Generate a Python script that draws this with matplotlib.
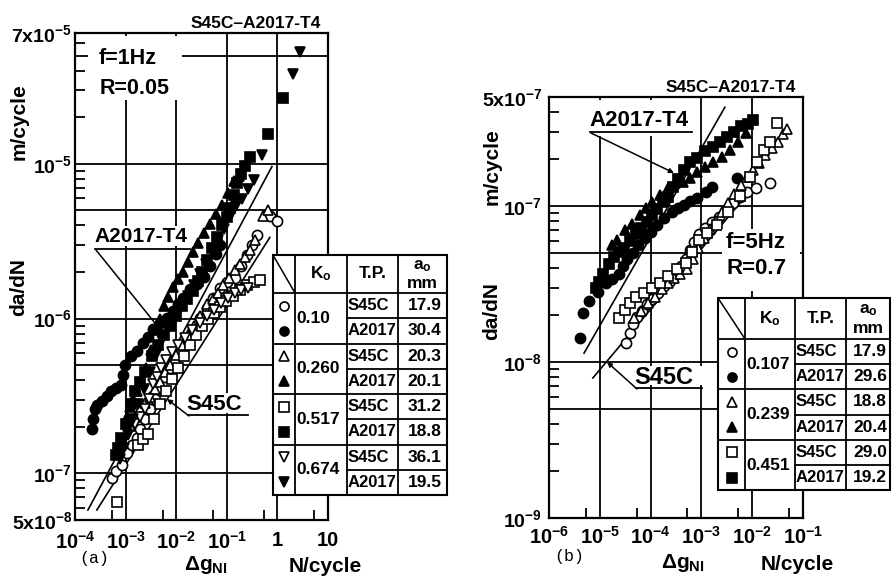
import numpy as np
import matplotlib
matplotlib.use("Agg")
import matplotlib.pyplot as plt
from matplotlib.ticker import LogLocator, NullFormatter, FixedLocator, FixedFormatter
from matplotlib.patches import Rectangle

plt.rcParams['font.family'] = ['Liberation Sans', 'DejaVu Sans']
plt.rcParams['font.weight'] = 'bold'
plt.rcParams['mathtext.default'] = 'regular'

# ---------------- panel (a) data : f=1Hz, R=0.05 ----------------
a_s45c_010_x = [5.4e-4, 6.5e-4, 8.5e-4, 1.07e-3, 1.34e-3, 1.68e-3, 1.93e-3, 2.42e-3, 3.03e-3, 3.81e-3,
                4.79e-3, 6.0e-3, 7.5e-3, 9.5e-3, 1.19e-2, 1.63e-2, 2.15e-2, 2.95e-2, 4.06e-2, 5.3e-2,
                7.3e-2, 0.101, 0.145, 0.191, 0.251, 0.315, 0.395, 0.714, 0.982]
a_s45c_010_y = [9.4e-8, 1.04e-7, 1.14e-7, 1.36e-7, 1.53e-7, 1.69e-7, 1.95e-7, 2.26e-7, 2.62e-7, 3.03e-7,
                3.5e-7, 4.2e-7, 4.8e-7, 5.4e-7, 6.45e-7, 7.5e-7, 8.6e-7, 1.01e-6, 1.17e-6, 1.36e-6,
                1.57e-6, 1.72e-6, 1.84e-6, 2.2e-6, 2.58e-6, 2.98e-6, 3.45e-6, 4.6e-6, 4.3e-6]
a_a2017_010_x = [2.17e-4, 2.27e-4, 2.48e-4, 2.72e-4, 3.4e-4, 4.3e-4, 5.1e-4, 6.5e-4, 8.1e-4, 8.9e-4,
                 9.7e-4, 1.28e-3, 1.68e-3, 2.21e-3, 2.77e-3, 3.48e-3, 4.79e-3, 6.6e-3, 8.6e-3, 1.09e-2,
                 1.36e-2, 1.87e-2, 2.58e-2, 3.54e-2, 4.66e-2, 6.1e-2, 7.3e-2]
a_a2017_010_y = [1.95e-7, 2.26e-7, 2.62e-7, 2.77e-7, 2.94e-7, 3.16e-7, 3.4e-7, 3.55e-7, 3.7e-7, 4.35e-7,
                 5.0e-7, 5.7e-7, 6.2e-7, 6.95e-7, 7.6e-7, 8.6e-7, 9.4e-7, 1.01e-6, 1.12e-6, 1.24e-6,
                 1.36e-6, 1.55e-6, 1.67e-6, 1.87e-6, 2.2e-6, 2.62e-6, 2.98e-6]
a_s45c_026_x = [1.22e-3, 1.53e-3, 1.93e-3, 2.42e-3, 3.03e-3, 3.81e-3, 4.79e-3, 6.0e-3, 7.5e-3, 9.9e-3,
                1.30e-2, 1.71e-2, 2.25e-2, 2.95e-2, 4.06e-2, 5.3e-2, 6.7e-2, 8.4e-2, 0.110, 0.145,
                0.182, 0.229, 0.287, 0.361, 0.519, 0.652]
a_s45c_026_y = [2.01e-7, 2.33e-7, 2.62e-7, 2.86e-7, 3.12e-7, 3.5e-7, 3.9e-7, 4.5e-7, 5.0e-7, 5.8e-7,
                6.75e-7, 7.8e-7, 9.0e-7, 1.04e-6, 1.24e-6, 1.34e-6, 1.46e-6, 1.64e-6, 1.82e-6, 2.07e-6,
                2.26e-6, 2.5e-6, 2.77e-6, 3.2e-6, 4.6e-6, 5.0e-6]
a_a2017_026_x = [8.5e-4, 1.07e-3, 1.22e-3, 1.40e-3, 1.68e-3, 2.01e-3, 2.53e-3, 3.18e-3, 3.99e-3, 4.79e-3,
                 5.74e-3, 6.9e-3, 8.6e-3, 1.09e-2, 1.36e-2, 1.71e-2, 2.15e-2, 2.70e-2, 3.54e-2, 4.66e-2,
                 6.1e-2, 8.0e-2, 0.106, 0.139, 0.174]
a_a2017_026_y = [1.57e-7, 2.33e-7, 2.69e-7, 3.03e-7, 3.4e-7, 3.9e-7, 4.8e-7, 6.3e-7, 8.4e-7, 1.0e-6,
                 1.21e-6, 1.38e-6, 1.60e-6, 1.79e-6, 2.01e-6, 2.33e-6, 2.69e-6, 3.07e-6, 3.55e-6, 4.1e-6,
                 4.75e-6, 5.4e-6, 6.5e-6, 7.7e-6, 8.3e-6]
a_s45c_0517_x = [6.8e-4, 1.76e-3, 2.21e-3, 2.77e-3, 3.64e-3, 4.79e-3, 6.3e-3, 8.3e-3, 1.09e-2, 1.43e-2,
                 1.87e-2, 2.46e-2, 3.24e-2, 4.25e-2, 5.6e-2, 7.3e-2, 9.6e-2, 0.133, 0.182, 0.251,
                 0.345, 0.453]
a_s45c_0517_y = [6.5e-8, 1.53e-7, 1.67e-7, 1.8e-7, 2.26e-7, 2.81e-7, 3.4e-7, 4.05e-7, 4.8e-7, 5.75e-7,
                 6.75e-7, 7.8e-7, 9.0e-7, 1.0e-6, 1.09e-6, 1.19e-6, 1.30e-6, 1.40e-6, 1.53e-6, 1.64e-6,
                 1.72e-6, 1.77e-6]
a_a2017_0517_x = [6.5e-4, 7.1e-4, 8.1e-4, 1.02e-3, 1.28e-3, 1.53e-3, 1.93e-3, 2.42e-3, 3.33e-3, 4.37e-3,
                  5.74e-3, 7.5e-3, 9.9e-3, 1.30e-2, 1.63e-2, 2.15e-2, 2.70e-2, 3.24e-2, 4.06e-2, 5.1e-2,
                  6.4e-2, 8.0e-2, 0.101, 0.116, 0.139, 0.159, 0.191, 0.229, 0.287, 0.652, 1.29]
a_a2017_0517_y = [1.32e-7, 1.46e-7, 1.69e-7, 2.1e-7, 2.81e-7, 3.4e-7, 3.9e-7, 4.5e-7, 5.7e-7, 6.75e-7,
                  7.8e-7, 9.0e-7, 1.04e-6, 1.21e-6, 1.34e-6, 1.50e-6, 1.74e-6, 2.01e-6, 2.4e-6, 2.85e-6,
                  3.35e-6, 4.05e-6, 4.55e-6, 5.2e-6, 6.3e-6, 7.5e-6, 8.6e-6, 9.7e-6, 1.11e-5, 1.55e-5, 2.65e-5]
a_s45c_0674_x = [1.53e-3, 1.93e-3, 2.42e-3, 2.90e-3, 3.48e-3, 4.18e-3, 5.01e-3, 6.3e-3, 8.3e-3, 1.09e-2,
                 1.49e-2, 2.05e-2, 2.95e-2, 4.06e-2, 5.6e-2, 7.7e-2, 0.106, 0.145, 0.191, 0.262]
a_s45c_0674_y = [2.1e-7, 2.33e-7, 2.62e-7, 3.03e-7, 3.77e-7, 4.2e-7, 4.8e-7, 5.4e-7, 6.1e-7, 6.75e-7,
                 7.5e-7, 8.4e-7, 9.4e-7, 1.04e-6, 1.14e-6, 1.27e-6, 1.36e-6, 1.46e-6, 1.53e-6, 1.57e-6]
a_a2017_0674_x = [7.7e-4, 9.3e-4, 1.11e-3, 1.40e-3, 1.76e-3, 2.31e-3, 3.03e-3, 3.99e-3, 5.24e-3, 6.9e-3,
                  9.5e-3, 1.24e-2, 1.71e-2, 2.25e-2, 2.95e-2, 3.88e-2, 5.1e-2, 6.7e-2, 8.8e-2, 0.116,
                  0.152, 0.200, 0.262, 0.345, 0.497, 2.03, 2.80]
a_a2017_0674_y = [1.23e-7, 1.46e-7, 1.77e-7, 2.26e-7, 2.81e-7, 3.5e-7, 4.55e-7, 5.8e-7, 7.3e-7, 8.6e-7,
                  1.03e-6, 1.19e-6, 1.40e-6, 1.64e-6, 1.95e-6, 2.26e-6, 2.69e-6, 3.2e-6, 3.82e-6, 4.55e-6,
                  5.3e-6, 5.9e-6, 6.9e-6, 7.9e-6, 1.14e-5, 3.82e-5, 5.27e-5]
# straight reference lines (end points)
a_line_a2017_x = [1.8e-4, 0.78]
a_line_a2017_y = [5.8e-8, 9.6e-6]
a_line_s45c_x = [2.7e-4, 0.71]
a_line_s45c_y = [5.8e-8, 3.35e-6]

a_ko = ['0.10', '0.260', '0.517', '0.674']
a_tp = ['S45C', 'A2017', 'S45C', 'A2017', 'S45C', 'A2017', 'S45C', 'A2017']
a_a0 = ['17.9', '30.4', '20.3', '20.1', '31.2', '18.8', '36.1', '19.5']

# ---------------- panel (b) data : f=5Hz, R=0.7 ----------------
b_s45c_0107_x = [3.3e-5, 3.9e-5, 4.5e-5, 5.4e-5, 6.8e-5, 8.5e-5, 1.07e-4, 1.4e-4, 1.84e-4, 2.4e-4,
                 3.2e-4, 4.0e-4, 5.0e-4, 6.0e-4, 7.1e-4, 9.0e-4, 1.18e-3, 1.62e-3, 2.2e-3, 3.0e-3,
                 4.2e-3, 5.8e-3, 7.9e-3, 1.19e-2, 2.24e-2]
b_s45c_0107_y = [1.32e-8, 1.53e-8, 1.75e-8, 1.94e-8, 2.11e-8, 2.34e-8, 2.52e-8, 2.79e-8, 3.05e-8, 3.33e-8,
                 3.69e-8, 4.1e-8, 4.6e-8, 5.25e-8, 5.9e-8, 6.6e-8, 7.2e-8, 7.9e-8, 8.5e-8, 9.4e-8,
                 1.04e-7, 1.14e-7, 1.23e-7, 1.30e-7, 1.40e-7]
b_a2017_0107_x = [4.1e-6, 4.7e-6, 6.1e-6, 9.2e-6, 1.32e-5, 1.74e-5, 2.4e-5, 2.9e-5, 3.4e-5, 4.5e-5,
                  5.6e-5, 7.8e-5, 1.02e-4, 1.34e-4, 1.84e-4, 2.6e-4, 3.5e-4, 4.5e-4, 6.0e-4, 8.2e-4,
                  1.23e-3, 1.62e-3, 5.0e-3]
b_a2017_0107_y = [1.42e-8, 2.05e-8, 2.45e-8, 2.83e-8, 3.19e-8, 3.43e-8, 3.69e-8, 4.1e-8, 4.6e-8, 5.0e-8,
                  5.65e-8, 6.2e-8, 6.8e-8, 7.6e-8, 8.4e-8, 9.2e-8, 9.7e-8, 1.01e-7, 1.08e-7, 1.12e-7,
                  1.23e-7, 1.32e-7, 1.51e-7]
b_s45c_0239_x = [4.7e-5, 6.5e-5, 8.9e-5, 1.22e-4, 1.68e-4, 2.2e-4, 2.9e-4, 3.8e-4, 5.2e-4, 6.8e-4,
                 8.6e-4, 1.12e-3, 1.48e-3, 1.94e-3, 2.5e-3, 3.3e-3, 4.4e-3, 6.0e-3, 7.9e-3, 1.04e-2,
                 1.36e-2, 1.79e-2, 2.45e-2, 3.2e-2, 4.0e-2, 4.8e-2]
b_s45c_0239_y = [1.91e-8, 2.11e-8, 2.38e-8, 2.63e-8, 2.92e-8, 3.23e-8, 3.48e-8, 3.69e-8, 3.97e-8, 4.6e-8,
                 5.4e-8, 6.25e-8, 7.1e-8, 8.0e-8, 9.2e-8, 1.04e-7, 1.19e-7, 1.36e-7, 1.53e-7, 1.69e-7,
                 1.88e-7, 2.11e-7, 2.34e-7, 2.59e-7, 2.88e-7, 3.14e-7]
b_a2017_0239_x = [1.74e-5, 2.2e-5, 3.1e-5, 4.3e-5, 6.2e-5, 8.1e-5, 1.07e-4, 1.53e-4, 2.2e-4, 3.0e-4,
                  4.3e-4, 6.0e-4, 8.2e-4, 1.18e-3, 1.69e-3, 2.5e-3, 3.7e-3, 5.2e-3, 7.5e-3]
b_a2017_0239_y = [5.65e-8, 6.1e-8, 7.0e-8, 7.7e-8, 8.8e-8, 9.7e-8, 1.06e-7, 1.17e-7, 1.30e-7, 1.40e-7,
                  1.42e-7, 1.51e-7, 1.65e-7, 1.77e-7, 1.91e-7, 2.05e-7, 2.27e-7, 2.56e-7, 2.92e-7]
b_s45c_0451_x = [2.4e-5, 3.1e-5, 3.9e-5, 5.2e-5, 7.4e-5, 1.07e-4, 1.53e-4, 2.2e-4, 3.3e-4, 5.0e-4,
                 6.5e-4, 9.0e-4, 1.29e-3, 2.0e-3, 3.3e-3, 5.8e-3, 9.1e-3, 1.24e-2, 1.71e-2, 2.24e-2, 3.1e-2]
b_s45c_0451_y = [1.91e-8, 2.14e-8, 2.38e-8, 2.6e-8, 2.79e-8, 2.96e-8, 3.19e-8, 3.58e-8, 3.97e-8, 4.3e-8,
                 5.1e-8, 6.1e-8, 6.7e-8, 7.6e-8, 9.2e-8, 1.16e-7, 1.53e-7, 1.91e-7, 2.27e-7, 2.59e-7, 3.43e-7]
b_a2017_0451_x = [8.4e-6, 9.6e-6, 1.16e-5, 1.52e-5, 1.9e-5, 2.4e-5, 3.0e-5, 3.9e-5, 5.2e-5, 6.5e-5,
                  8.5e-5, 1.07e-4, 1.34e-4, 1.75e-4, 2.2e-4, 2.8e-4, 3.5e-4, 4.5e-4, 6.0e-4, 8.2e-4,
                  1.18e-3, 1.69e-3, 2.3e-3, 3.2e-3, 4.4e-3, 6.0e-3, 8.3e-3, 1.04e-2]
b_a2017_0451_y = [2.96e-8, 3.28e-8, 3.69e-8, 4.27e-8, 4.7e-8, 5.1e-8, 5.4e-8, 6.0e-8, 6.6e-8, 7.2e-8,
                  7.9e-8, 8.8e-8, 9.6e-8, 1.06e-7, 1.14e-7, 1.32e-7, 1.49e-7, 1.69e-7, 1.91e-7, 2.02e-7,
                  2.24e-7, 2.38e-7, 2.56e-7, 2.79e-7, 3.0e-7, 3.24e-7, 3.38e-7, 3.58e-7]
b_line_a2017_x = [4.9e-6, 2.9e-3]
b_line_a2017_y = [1.14e-8, 4.3e-7]
b_line_s45c_x = [7.3e-6, 7.2e-3]
b_line_s45c_y = [7.9e-9, 1.14e-7]

b_ko = ['0.107', '0.239', '0.451']
b_tp = ['S45C', 'A2017', 'S45C', 'A2017', 'S45C', 'A2017']
b_a0 = ['17.9', '29.6', '18.8', '20.4', '29.0', '19.2']

marker_styles = [('o', 'white'), ('o', 'black'), ('^', 'white'), ('^', 'black'),
                 ('s', 'white'), ('s', 'black'), ('v', 'white'), ('v', 'black')]

fig = plt.figure(figsize=(8.93, 5.79), dpi=100)
ax_a = fig.add_axes([75 / 893, 59 / 579, 253 / 893, 487 / 579])
ax_b = fig.add_axes([549 / 893, 61 / 579, 254 / 893, 421 / 579])


def setup_axes(ax, xlim, ylim, xticks, xlabels, yticks, ylabels, hgrid, xsub, xpad, ypad):
    ax.set_xscale('log')
    ax.set_yscale('log')
    ax.set_xlim(xlim)
    ax.set_ylim(ylim)
    for s in ax.spines.values():
        s.set_linewidth(1.6)
    for v in xticks[1:-1]:
        ax.axvline(v, color='black', lw=1.3, zorder=1)
    for h in hgrid:
        ax.axhline(h, color='black', lw=1.3, zorder=1)
    ax.xaxis.set_major_locator(FixedLocator(xticks))
    ax.xaxis.set_major_formatter(FixedFormatter(xlabels))
    ax.yaxis.set_major_locator(FixedLocator(yticks))
    ax.yaxis.set_major_formatter(FixedFormatter(ylabels))
    ax.xaxis.set_minor_locator(LogLocator(base=10, subs=xsub, numticks=20))
    ax.yaxis.set_minor_locator(LogLocator(base=10, subs=(2, 3, 4, 6, 7, 8, 9), numticks=20))
    ax.xaxis.set_minor_formatter(NullFormatter())
    ax.yaxis.set_minor_formatter(NullFormatter())
    ax.tick_params(which='major', length=0)
    ax.tick_params(axis='x', which='major', pad=xpad, labelsize=14.5)
    ax.tick_params(axis='y', which='major', pad=ypad, labelsize=14)
    ax.tick_params(which='minor', direction='in', length=7, width=1.3,
                   top=False, right=False)


def plot_series(ax, series, lines):
    for (x, y), (m, fc) in zip(series, marker_styles):
        ax.plot(x, y, ls='none', marker=m, ms=7.3, mfc=fc, mec='black', mew=1.2, zorder=3)
    for x, y in lines:
        ax.plot(x, y, color='black', lw=1.2, zorder=2)


setup_axes(ax_a, (1e-4, 10), (5e-8, 7e-5),
           [1e-4, 1e-3, 1e-2, 1e-1, 1, 10],
           ['$10^{-4}$', '$10^{-3}$', '$10^{-2}$', '$10^{-1}$', '1', '10'],
           [5e-8, 1e-7, 1e-6, 1e-5, 7e-5],
           ['5x$10^{-8}$', '$10^{-7}$', '$10^{-6}$', '$10^{-5}$', '7x$10^{-5}$'],
           [1e-7, 5e-7, 1e-6, 5e-6, 1e-5, 5e-5], (5.4,), 8, 2)
setup_axes(ax_b, (1e-6, 1e-1), (1e-9, 5e-7),
           [1e-6, 1e-5, 1e-4, 1e-3, 1e-2, 1e-1],
           ['$10^{-6}$', '$10^{-5}$', '$10^{-4}$', '$10^{-3}$', '$10^{-2}$', '$10^{-1}$'],
           [1e-9, 1e-8, 1e-7, 5e-7],
           ['$10^{-9}$', '$10^{-8}$', '$10^{-7}$', '5x$10^{-7}$'],
           [5e-9, 1e-8, 5e-8, 1e-7], (5.3,), 6, 5)

plot_series(ax_a,
            [(a_s45c_010_x, a_s45c_010_y), (a_a2017_010_x, a_a2017_010_y),
             (a_s45c_026_x, a_s45c_026_y), (a_a2017_026_x, a_a2017_026_y),
             (a_s45c_0517_x, a_s45c_0517_y), (a_a2017_0517_x, a_a2017_0517_y),
             (a_s45c_0674_x, a_s45c_0674_y), (a_a2017_0674_x, a_a2017_0674_y)],
            [(a_line_a2017_x, a_line_a2017_y), (a_line_s45c_x, a_line_s45c_y)])
plot_series(ax_b,
            [(b_s45c_0107_x, b_s45c_0107_y), (b_a2017_0107_x, b_a2017_0107_y),
             (b_s45c_0239_x, b_s45c_0239_y), (b_a2017_0239_x, b_a2017_0239_y),
             (b_s45c_0451_x, b_s45c_0451_y), (b_a2017_0451_x, b_a2017_0451_y)],
            [(b_line_a2017_x, b_line_a2017_y), (b_line_s45c_x, b_line_s45c_y)])

# overlay in pixel units for labels and the small tables
ov = fig.add_axes([0, 0, 1, 1])
ov.set_xlim(0, 893)
ov.set_ylim(579, 0)
ov.axis('off')
ov.set_zorder(10)
ov.patch.set_alpha(0)


def white(x, y, w, h):
    ov.add_patch(Rectangle((x, y), w, h, facecolor='white', edgecolor='none', zorder=1))


def label(x, y, s, size=12.5, **kw):
    ov.text(x, y, s, fontsize=size, va='center', zorder=3, **kw)


def leader(x0, y, x1, tx, ty):
    ov.plot([x0, x1], [y, y], color='black', lw=1.3, zorder=3)
    ov.annotate('', xy=(tx, ty), xytext=(x0 + 1, y + 1),
                arrowprops=dict(arrowstyle='-|>', color='black', lw=1.1, mutation_scale=7,
                                shrinkA=0, shrinkB=0), zorder=3)


# panel (a) labels
label(256, 24, 'S45C\u2013A2017-T4', size=12.5, ha='center')
white(88, 36, 94, 64)
label(99, 58, 'f=1Hz', size=15.5)
label(100, 88, 'R=0.05', size=15.5)
white(92, 226, 100, 20)
label(94, 237, 'A2017-T4', size=15)
leader(95, 249, 190, 163, 333)
white(184, 393, 68, 20)
label(186, 404, 'S45C', size=16)
leader(188, 415, 248, 167, 399)

# panel (b) labels
label(731, 88, 'S45C\u2013A2017-T4', size=12.5, ha='center')
white(586, 100, 110, 36)
label(589, 121, 'A2017-T4', size=16)
leader(590, 132, 692, 674, 173)
white(722, 229, 78, 62)
label(726, 242, 'f=5Hz', size=16)
label(726, 268, 'R=0.7', size=16)
white(632, 366, 74, 19)
label(634, 377, 'S45C', size=17)
leader(636, 388, 702, 607, 362)

# axis titles
for x, y1, y2 in [(19, 122, 287), (492, 167, 311)]:
    label(x, y1, 'm/cycle', size=15, rotation=90, ha='center')
    label(x, y2, 'da/dN', size=15, rotation=90, ha='center')
label(79, 558, '(a)', size=12, family='Liberation Mono', weight='normal')
label(554, 557, '(b)', size=12, family='Liberation Mono', weight='normal')
label(184, 565, '\u0394$g_{NI}$', size=15)
label(289, 566, 'N/cycle', size=15)
label(661, 563, '\u0394$g_{NI}$', size=15)
label(761, 564, 'N/cycle', size=15)


def draw_table(xe, y0, yh, rh, ko, tp, a0):
    n = len(tp)
    y1 = yh + n * rh
    ov.add_patch(Rectangle((xe[0], y0), xe[-1] - xe[0], y1 - y0, facecolor='white',
                           edgecolor='black', lw=1.5, zorder=4))
    for x in xe[1:-1]:
        ov.plot([x, x], [y0, y1], color='black', lw=1.3, zorder=5)
    ov.plot([xe[0], xe[1]], [y0, yh], color='black', lw=1.1, zorder=5)
    for i in range(n):
        y = yh + i * rh
        xs = xe[0] if i % 2 == 0 else xe[2]
        ov.plot([xs, xe[-1]], [y, y], color='black', lw=1.3, zorder=5)
    kw = dict(va='center', ha='center', zorder=6, fontsize=12.5)
    ov.text((xe[1] + xe[2]) / 2, (y0 + yh) / 2, 'K$_o$', **kw)
    ov.text((xe[2] + xe[3]) / 2, (y0 + yh) / 2, 'T.P.', **kw)
    ov.text((xe[3] + xe[4]) / 2, y0 + (yh - y0) * 0.3, 'a$_o$', **kw)
    ov.text((xe[3] + xe[4]) / 2, y0 + (yh - y0) * 0.75, 'mm', **kw)
    for i in range(n):
        yc = yh + (i + 0.5) * rh
        m, fc = marker_styles[i]
        ov.plot([(xe[0] + xe[1]) / 2], [yc], marker=m, ms=6.5, mfc=fc, mec='black', mew=1.2,
                ls='none', zorder=6)
        ov.text(xe[2] + 0.5, yc, tp[i], va='center', ha='left', zorder=6, fontsize=12)
        ov.text((xe[3] + xe[4]) / 2 + 2, yc, a0[i], **kw)
    for j, k in enumerate(ko):
        ov.text(xe[1] + 1, yh + (2 * j + 1) * rh, k, va='center', ha='left', zorder=6,
                fontsize=12.5)


draw_table([273, 295, 347, 398, 447], 255, 293, 25.25, a_ko, a_tp, a_a0)
draw_table([718, 745, 795, 846, 890], 298, 339, 25.2, b_ko, b_tp, b_a0)

fig.savefig('out.png', dpi=100)
